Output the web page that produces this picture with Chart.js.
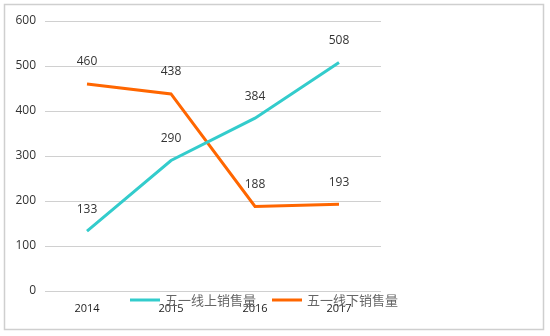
<!DOCTYPE html>
<html><head><meta charset="utf-8">
<script src="https://cdn.jsdelivr.net/npm/chart.js@4"></script>
<style>html,body{margin:0;padding:0;background:#fff}#wrap{width:550px;height:336px;position:relative}</style>
</head><body><div id="wrap"><canvas id="c" width="550" height="336"></canvas></div>
<script>
const categories = ['2014','2015','2016','2017'];
const onlineSales = [133, 290, 384, 508];
const offlineSales = [460, 438, 188, 193];
const seriesNames = ['五一线上销售量','五一线下销售量'];
const yTicks = [0,100,200,300,400,500,600];

const colors = ['#33CCCC','#FF6600'];

const decor = {
  id:'decor',
  beforeDraw(chart){
    const ctx = chart.ctx;
    ctx.save();
    ctx.fillStyle='#fff';ctx.fillRect(0,0,chart.width,chart.height);
    ctx.strokeStyle='#cfcfcf';ctx.lineWidth=1.5;
    ctx.strokeRect(4.5,4.5,539,325);
    ctx.restore();
  },
  afterDatasetsDraw(chart){
    const ctx = chart.ctx;
    ctx.save();
    ctx.font='12px "Open Sans", "Liberation Sans", sans-serif';
    ctx.fillStyle='#333';ctx.textAlign='center';ctx.textBaseline='middle';
    chart.data.datasets.forEach((ds,i)=>{
      const meta=chart.getDatasetMeta(i);
      meta.data.forEach((pt,j)=>{
        ctx.fillText(String(ds.data[j]), pt.x, pt.y-22);
      });
    });
    // legend
    const legendX=[130,272], ly=300;
    chart.data.datasets.forEach((ds,i)=>{
      ctx.strokeStyle=ds.borderColor;ctx.lineWidth=3;ctx.lineCap='butt';
      ctx.beginPath();ctx.moveTo(legendX[i],ly);ctx.lineTo(legendX[i]+30,ly);ctx.stroke();
      ctx.font='13px "Noto Sans CJK SC", sans-serif';
      ctx.fillStyle='#666';ctx.textAlign='left';
      ctx.fillText(ds.label, legendX[i]+35, ly);
    });
    ctx.restore();
  }
};

new Chart(document.getElementById('c'),{
  type:'line',
  data:{labels:categories,datasets:[
    {label:seriesNames[0],data:onlineSales,borderColor:colors[0],backgroundColor:colors[0],borderWidth:3,pointRadius:0,tension:0,fill:false},
    {label:seriesNames[1],data:offlineSales,borderColor:colors[1],backgroundColor:colors[1],borderWidth:3,pointRadius:0,tension:0,fill:false}
  ]},
  options:{
    responsive:false,animation:false,
    layout:{padding:{left:0,right:169,top:21,bottom:0}},
    plugins:{legend:{display:false},tooltip:{enabled:false}},
    scales:{
      x:{offset:true,grid:{display:false,drawTicks:false},border:{display:false},
        ticks:{color:'#222',font:{size:11,family:'"Open Sans", "Liberation Sans", sans-serif'},padding:11},
        afterFit(s){s.height=45;}},
      y:{min:0,max:600,afterBuildTicks(s){s.ticks=yTicks.map(v=>({value:v}));},
        grid:{color:'#d0d0d0',lineWidth:1,drawTicks:false},border:{display:false},
        ticks:{color:'#333',font:{size:12,family:'"Open Sans", "Liberation Sans", sans-serif'},padding:9},
        afterFit(s){s.width=45;}}
    }
  },
  plugins:[decor]
});
</script></body></html>
